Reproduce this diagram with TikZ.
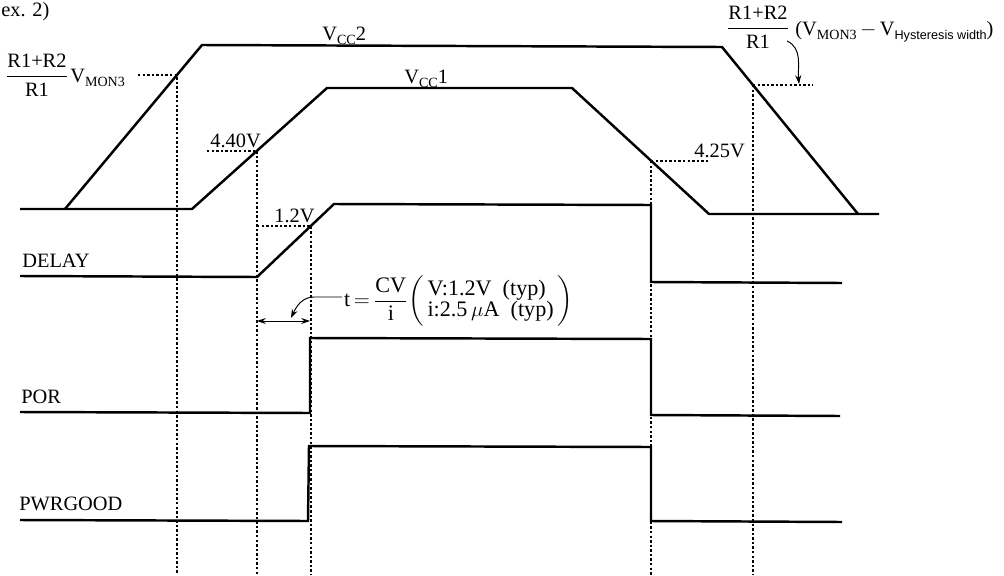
\documentclass[tikz,border=0pt]{standalone}
\usepackage{amsmath}
\usepackage{fontspec}
\setmainfont{Liberation Serif}
\newfontfamily\hysfont{Liberation Sans}
\usepackage{tikz}
\usetikzlibrary{arrows.meta,calc}
\newcommand{\lowsub}[1]{\raisebox{-0.45ex}{\fontsize{8}{9}\selectfont #1}}
\newcommand{\hysub}[1]{\raisebox{-0.45ex}{\hysfont\fontsize{7.2}{8}\selectfont #1}}

\begin{document}
\begin{tikzpicture}[x=0.02cm, y=-0.02cm,
  sig/.style={line width=1.4pt, line join=miter},
  guide/.style={line width=0.6pt, dash pattern=on 1.4pt off 1.2pt},
  lbl/.style={font=\fontsize{11.6}{13.5}\selectfont, inner sep=0pt},
  tip/.style={-{Stealth[length=5pt,width=3.4pt]}, line width=0.55pt},
  twotip/.style={{Stealth[length=5pt,width=3.4pt]}-{Stealth[length=5pt,width=3.4pt]}, line width=0.55pt}]
  \useasboundingbox (0,0) rectangle (1004,575);
  \coordinate (bot) at (0,575);

  \draw[sig] (20,209) -- (192,209) -- (327,88) -- (572,88) -- (709,214) -- (879,214);
  \draw[sig] (65,209) -- (202,45) -- (722,47) -- (858,214);
  \draw[sig] (20,276) -- (257,277) -- (334,204) -- (651,205) -- (651,282) -- (842,283);
  \draw[sig] (20,412) -- (310,413) -- (310,338) -- (651,339) -- (651,415) -- (840,416);
  \draw[sig] (20,520) -- (308,521) -- (309,446) -- (651,447) -- (651,521) -- (842,522);

  \coordinate (on3) at (177,75);
  \coordinate (v440) at (257,151);
  \coordinate (d12) at (311,226);
  \coordinate (v425) at (651,161);
  \coordinate (off3) at (753,85);

  \draw[guide] (138,75) -- (on3) -- (on3 |- bot);
  \draw[guide] (207,151) -- (v440) -- (v440 |- bot);
  \draw[guide] (257,226) -- (d12) -- (d12 |- bot);
  \draw[guide] (v425) -- (708,161);
  \draw[guide] (v425) -- (v425 |- bot);
  \draw[guide] (off3) -- (813,85);
  \draw[guide] (off3) -- (off3 |- bot);

  \node[lbl, anchor=base west] (exno) at (1,16) {ex. 2)};
  \node[lbl, anchor=base west] (vcc2) at (322,40) {V\lowsub{CC}2};
  \node[lbl, anchor=base west] (vcc1) at (404,83) {V\lowsub{CC}1};
  \node[lbl] (frl) at (37,75) {$\dfrac{\text{R1+R2}}{\text{R1}}$};
  \node[lbl, anchor=base west] (mon) at (70,82) {V\lowsub{MON3}};
  \node[lbl, anchor=base west] (t440) at (210,147) {4.40V};
  \node[lbl, anchor=base west] (t12) at (274,222) {1.2V};
  \node[lbl, anchor=base west] (t425) at (694,157) {4.25V};
  \node[lbl] (frr) at (758,27) {$\dfrac{\text{R1+R2}}{\text{R1}}$};
  \node[lbl, anchor=base west] (hys) at (795,35)
    {(V\lowsub{MON3}\,$-$\,V\hysub{Hysteresis width})};

  \node[lbl, anchor=base west] (delay) at (22,267) {DELAY};
  \node[lbl, anchor=base west] (por) at (21,403) {POR};
  \node[lbl, anchor=base west] (pg) at (19,510) {PWRGOOD};

  \node[lbl, anchor=west, inner sep=1pt, font=\fontsize{12.6}{14}\selectfont] (form) at (342,301)
    {t$\,=\,$$\dfrac{\text{CV}}{\text{i}}$$\left(\begin{tabular}{@{\,}l@{\,}}V:1.2V\ \ (typ)\\[-2pt] i:2.5\,$\mu$A\ \ (typ)\end{tabular}\right)$};
  \coordinate (bend) at (314,297);
  \coordinate (ttip) at (291,318);
  \draw[tip] (form.west |- bend) -- (bend) to[out=180,in=65] (ttip);
  \coordinate (wl) at (257,321);
  \coordinate (wr) at (310,321);
  \draw[twotip] (wl) -- (wr);

  \coordinate (hy) at (787,41);
  \coordinate (hytip) at (799,84);
  \draw[tip] (hy) to[out=-25,in=95] (hytip);
\end{tikzpicture}
\end{document}
